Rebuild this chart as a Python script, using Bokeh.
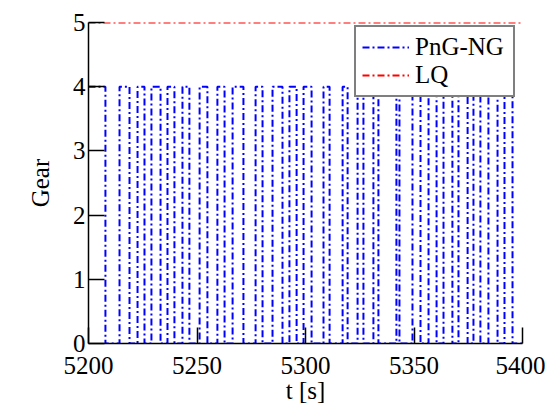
from bokeh.plotting import figure
from bokeh.models import Range1d, FixedTicker
from bokeh.embed import file_html
from bokeh.resources import INLINE

# ---- data ----
switch_times = [5200, 5207.8, 5214.3, 5218.9, 5222.6, 5225.8, 5229.0, 5233.2, 5236.4, 5239.6,
                5243.3, 5246.5, 5251.2, 5254.8, 5259.4, 5262.7, 5266.4, 5271.4, 5277.0, 5280.2,
                5284.8, 5289.4, 5292.6, 5295.9, 5299.1, 5302.8, 5308.3, 5311.1, 5317.1, 5319.4,
                5324.0, 5326.7, 5331.3, 5333.6, 5341.9, 5343.3, 5349.3, 5353.0, 5356.7, 5360.4,
                5363.6, 5367.7, 5370.5, 5374.7, 5377.4, 5380.6, 5384.3, 5388.5, 5391.7, 5395.4]
png_gear = [4, 0, 4, 0, 4, 0, 4, 0, 4, 0,
            4, 0, 4, 0, 4, 0, 4, 0, 4, 0,
            4, 0, 4, 0, 4, 0, 4, 0, 4, 0,
            4, 0, 4, 0, 4, 0, 4, 0, 4, 0,
            4, 0, 4, 0, 4, 0, 4, 0, 4, 0]
t_end = 5400
lq_times = [5200, 5400]
lq_gear = [5, 5]
x_ticks = [5200, 5250, 5300, 5350, 5400]
y_ticks = [0, 1, 2, 3, 4, 5]

# build the step path of the gear signal
step_x, step_y = [], []
for i, (t, g) in enumerate(zip(switch_times, png_gear)):
    t_next = switch_times[i + 1] if i + 1 < len(switch_times) else t_end
    step_x += [t, t_next]
    step_y += [g, g]

FONT = "Liberation Serif"

p = figure(frame_width=434, frame_height=321, x_range=Range1d(5200, 5400), y_range=Range1d(0, 5),
           output_backend="svg", toolbar_location=None,
           min_border_left=88, min_border_right=23, min_border_top=22, min_border_bottom=60)
p.outline_line_color = None
p.xgrid.grid_line_color = None
p.ygrid.grid_line_color = None

p.line(step_x, step_y, line_color="#0000FF", line_width=2, line_dash="7 3 2 3",
       legend_label="PnG-NG")
p.line(lq_times, lq_gear, line_color="#FF0000", line_width=2, line_dash="7 3 2 3",
       legend_label="LQ")

for ax in (p.xaxis[0], p.yaxis[0]):
    ax.axis_line_color = "black"
    ax.axis_line_width = 1.5
    ax.major_tick_line_color = "black"
    ax.major_tick_line_width = 1.5
    ax.major_tick_in = 16
    ax.major_tick_out = 0
    ax.minor_tick_line_color = None
    ax.major_label_text_font = FONT
    ax.major_label_text_font_size = "25px"
    ax.major_label_text_color = "black"
    ax.axis_label_text_font = FONT
    ax.axis_label_text_font_size = "25px"
    ax.axis_label_text_font_style = "normal"
    ax.axis_label_text_color = "black"

p.xaxis.ticker = FixedTicker(ticks=x_ticks)
p.yaxis.ticker = FixedTicker(ticks=y_ticks)
p.xaxis.axis_label = "t [s]"
p.yaxis.axis_label = "Gear"
p.xaxis.major_label_standoff = 13
p.yaxis.major_label_standoff = 3
p.xaxis.axis_label_standoff = 0
p.yaxis.axis_label_standoff = 16

lg = p.legend[0]
lg.location = (266, 246)
lg.margin = 0
lg.padding = 6
lg.spacing = 0
lg.border_line_color = "black"
lg.border_line_width = 2
lg.background_fill_color = "white"
lg.background_fill_alpha = 1
lg.glyph_width = 47
lg.glyph_height = 28
lg.label_height = 28
lg.label_width = 92
lg.label_standoff = 6
lg.label_text_font = FONT
lg.label_text_font_size = "25px"
lg.label_text_color = "black"

open("out.html", "w").write(file_html(p, INLINE))
